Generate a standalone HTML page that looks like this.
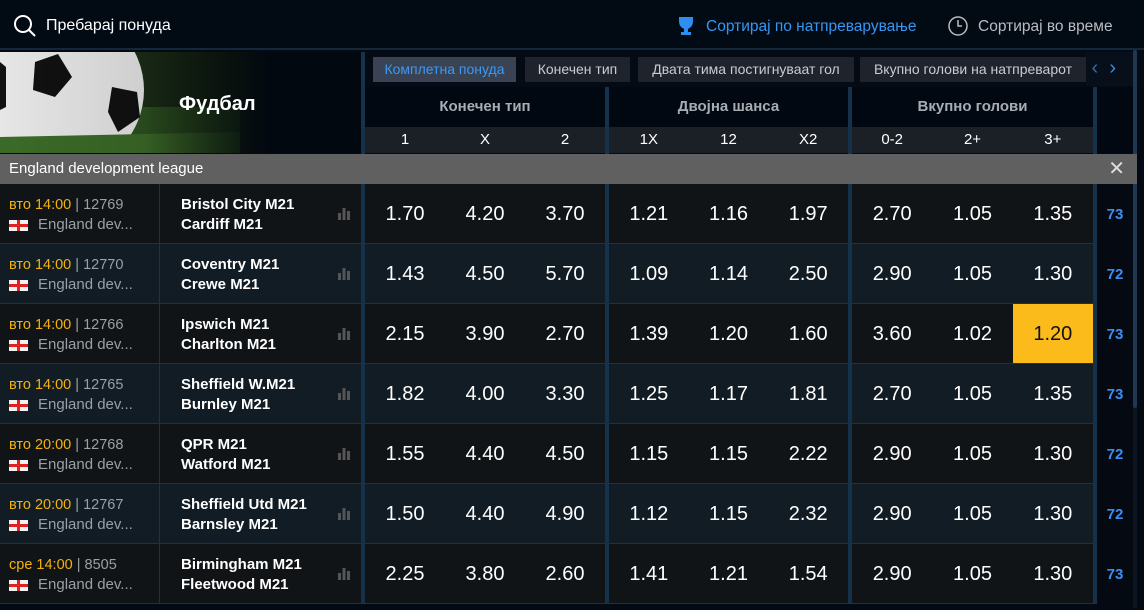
<!DOCTYPE html>
<html><head><meta charset="utf-8"><style>
*{margin:0;padding:0;box-sizing:border-box}
body{width:1144px;height:610px;background:#040a13;font-family:"Liberation Sans","DejaVu Sans",sans-serif;position:relative;overflow:hidden;color:#fff}
.a{position:absolute}
.tab{position:absolute;top:57px;height:25px;background:#1f232b;color:#c9ccd1;font-size:14px;line-height:25px;text-align:center}
.gh{position:absolute;top:87px;height:40px;line-height:40px;text-align:center;color:#a9adb3;font-size:15px;font-weight:bold;background:#020812}
.sh{position:absolute;top:127px;height:26px;line-height:26px;background:#1b1f26;font-size:15px;display:flex}
.sh div,.od div{flex:1;text-align:center}
.row{position:absolute;left:0;width:1133px;height:60px;border-bottom:1px solid #1a3347}
.od{position:absolute;top:0;height:59px;display:flex;line-height:61px;font-size:20px}
.sep{position:absolute;top:87px;width:4px;height:517px;background:#15324a}
</style></head><body>
<div class="a" style="left:0;top:0;width:1144px;height:50px;background:#020a14;border-bottom:2px solid #14283b"></div>
<svg class="a" style="left:12px;top:13px" width="26" height="26"><circle cx="11" cy="11" r="8" fill="none" stroke="#fff" stroke-width="2"/><line x1="17" y1="17" x2="23" y2="23" stroke="#fff" stroke-width="2"/></svg>
<div class="a" style="left:46px;top:17px;font-size:16px">Пребарај понуда</div>
<svg class="a" style="left:676px;top:15px" width="20" height="22"><path d="M3 2h14v4c0 5-3 8-7 8s-7-3-7-8z" fill="#2d8ef0"/><rect x="8" y="13" width="4" height="4" fill="#2d8ef0"/><rect x="5" y="17" width="10" height="3" fill="#2d8ef0"/></svg>
<div class="a" style="left:706px;top:18px;font-size:15.5px;color:#3796f0">Сортирај по натпреварување</div>
<svg class="a" style="left:947px;top:15px" width="22" height="22"><circle cx="11" cy="11" r="9" fill="none" stroke="#bbb" stroke-width="1.5"/><path d="M11 5v6h4" fill="none" stroke="#bbb" stroke-width="1.5"/></svg>
<div class="a" style="left:978px;top:18px;font-size:15.5px;color:#b9bcc1">Сортирај во време</div>

<svg class="a" style="left:0;top:52px" width="361" height="101">
<defs><linearGradient id="g" x1="0" x2="1"><stop offset="0" stop-color="#000" stop-opacity="0"/><stop offset="0.4" stop-color="#000" stop-opacity="0.1"/><stop offset="0.75" stop-color="#020810" stop-opacity="1"/></linearGradient></defs>
<rect width="361" height="101" fill="#1a2c17"/>
<rect y="55" width="240" height="46" fill="#2c5020"/>
<circle cx="62" cy="38" r="82" fill="#e6e6e6"/>
<polygon points="35,10 58,2 72,25 55,45 33,38" fill="#111"/>
<polygon points="112,35 137,40 140,65 118,80 108,60" fill="#111"/>
<polygon points="0,10 6,15 6,55 0,58" fill="#111"/>
<path d="M0 85 L240 80 L240 101 L0 101z" fill="#3b6a28"/>
<rect width="361" height="101" fill="url(#g)"/>
</svg>
<div class="a" style="left:179px;top:93px;font-size:20px;font-weight:bold">Фудбал</div>
<div class="a" style="left:361px;top:52px;width:4px;height:101px;background:#15324a"></div>
<div class="a" style="left:365px;top:52px;width:779px;height:35px;background:#050b14"></div>
<div class="tab" style="left:373px;width:143px;background:#3a4353;color:#3b98f5">Комплетна понуда</div>
<div class="tab" style="left:525px;width:105px">Конечен тип</div>
<div class="tab" style="left:638px;width:216px">Двата тима постигнуваат гол</div>
<div class="tab" style="left:860px;width:226px">Вкупно голови на натпреварот</div>
<div class="a" style="left:1086px;top:52px;width:50px;height:34px;background:#07101a;color:#2f6ea8;font-size:20px;line-height:32px">&nbsp;‹ &nbsp;<span style="color:#3b8ad6">›</span></div>
<div class="gh" style="left:365px;width:240px">Конечен тип</div>
<div class="gh" style="left:609px;width:239px">Двојна шанса</div>
<div class="gh" style="left:852px;width:241px">Вкупно голови</div>
<div class="sh" style="left:365px;width:240px"><div>1</div><div>X</div><div>2</div></div>
<div class="sh" style="left:609px;width:239px"><div>1X</div><div>12</div><div>X2</div></div>
<div class="sh" style="left:852px;width:241px"><div>0-2</div><div>2+</div><div>3+</div></div>
<div class="a" style="left:1097px;top:87px;width:36px;height:66px;background:#020812"></div>

<div id="rows"></div>
<div class="a" style="left:1097px;top:184px;width:36px;height:420px;background:#050a12"></div>
<div class="sep" style="left:361px;top:87px"></div>
<div class="sep" style="left:605px"></div>
<div class="sep" style="left:848px"></div>
<div class="sep" style="left:1093px"></div>
<div class="a" style="left:1133px;top:50px;width:4px;height:558px;background:#0c1620"></div>
<div class="a" style="left:1133px;top:50px;width:4px;height:358px;background:#1d3850;border-radius:2px"></div>
<div class="a" style="left:0;top:154px;width:1137px;height:30px;background:#606060;font-size:15px;line-height:30px;padding-left:9px;color:#fff;z-index:5">England development league<span style="position:absolute;right:12px;font-size:20px;color:#ddd">✕</span></div>
<script>
var d=[["вто 14:00","12769","Bristol City M21","Cardiff M21",["1.70","4.20","3.70"],["1.21","1.16","1.97"],["2.70","1.05","1.35"],"73"],
["вто 14:00","12770","Coventry M21","Crewe M21",["1.43","4.50","5.70"],["1.09","1.14","2.50"],["2.90","1.05","1.30"],"72"],
["вто 14:00","12766","Ipswich M21","Charlton M21",["2.15","3.90","2.70"],["1.39","1.20","1.60"],["3.60","1.02","1.20"],"73"],
["вто 14:00","12765","Sheffield W.M21","Burnley M21",["1.82","4.00","3.30"],["1.25","1.17","1.81"],["2.70","1.05","1.35"],"73"],
["вто 20:00","12768","QPR M21","Watford M21",["1.55","4.40","4.50"],["1.15","1.15","2.22"],["2.90","1.05","1.30"],"72"],
["вто 20:00","12767","Sheffield Utd M21","Barnsley M21",["1.50","4.40","4.90"],["1.12","1.15","2.32"],["2.90","1.05","1.30"],"72"],
["сре 14:00","8505","Birmingham M21","Fleetwood M21",["2.25","3.80","2.60"],["1.41","1.21","1.54"],["2.90","1.05","1.30"],"73"]];
var h="";
d.forEach(function(r,i){var t=184+i*60,bg=i%2?"#111c24":"#111417";
function od(l,w,a,hl){return '<div class="od" style="left:'+l+'px;width:'+w+'px">'+a.map(function(x,k){return '<div'+(hl&&k==2?' style="background:#fbbb1b;color:#111"':'')+'>'+x+'</div>'}).join("")+'</div>'}
h+='<div class="row" style="top:'+t+'px;background:'+bg+'">'+
'<div class="a" style="left:9px;top:13px;font-size:14.5px;color:#9aa0a6"><span style="color:#f5b20d">'+r[0]+'</span> | '+r[1]+'</div>'+
'<svg class="a" style="left:9px;top:36px" width="19" height="11"><rect width="19" height="11" fill="#f2f2f2"/><rect x="8" width="3" height="11" fill="#d22"/><rect y="4" width="19" height="3" fill="#d22"/></svg>'+
'<div class="a" style="left:38px;top:32px;font-size:15px;color:#9aa0a6">England dev...</div>'+
'<div class="a" style="left:159px;top:0;width:1px;height:59px;background:#1a3347"></div>'+
'<div class="a" style="left:181px;top:11px;font-size:15px;font-weight:bold;line-height:20px">'+r[2]+'<br>'+r[3]+'</div>'+
'<svg class="a" style="left:338px;top:24px" width="14" height="12"><rect x="0" y="5" width="3" height="7" fill="#555"/><rect x="4.5" y="0" width="3" height="12" fill="#555"/><rect x="9" y="3" width="3" height="9" fill="#555"/></svg>'+
od(365,240,r[4])+od(609,239,r[5])+od(852,241,r[6],i==2)+
'<div class="a" style="left:1097px;top:0;width:36px;height:59px;line-height:61px;text-align:center;color:#3b8ff0;font-weight:bold;font-size:15px;background:#050a12;z-index:2">'+r[7]+'</div></div>';});
document.getElementById("rows").innerHTML=h;
</script>
</body></html>
